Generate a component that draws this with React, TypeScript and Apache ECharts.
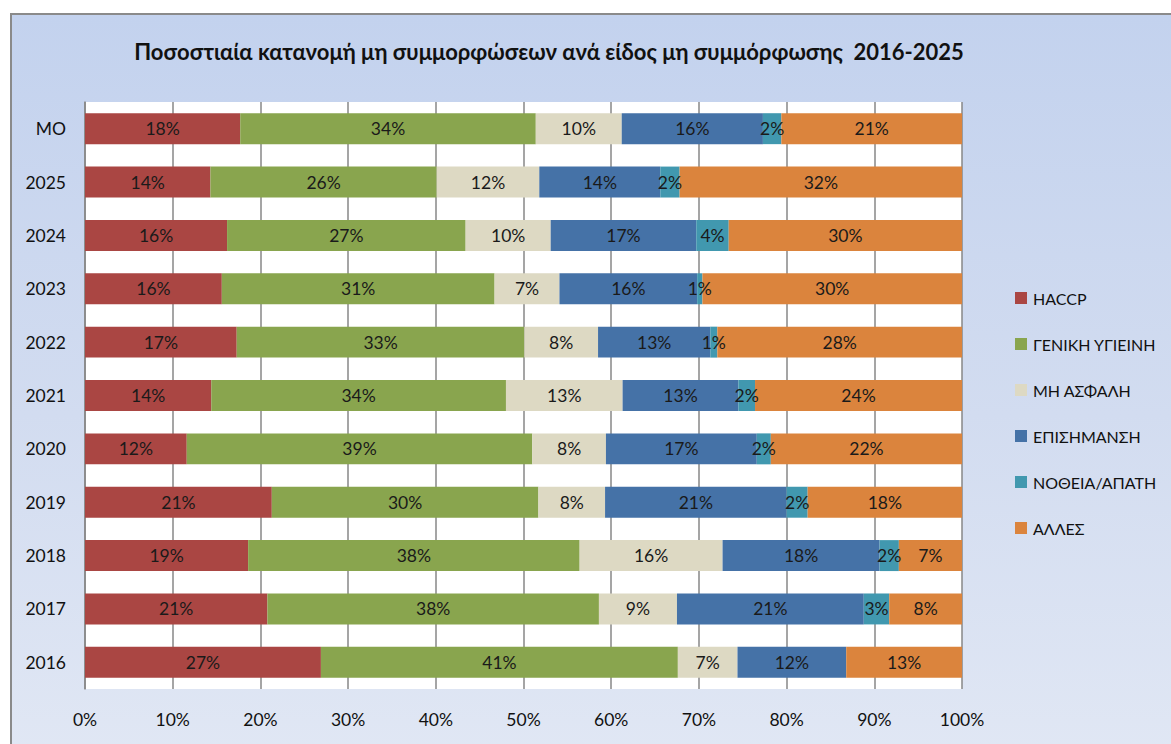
import React, { useEffect, useRef } from "react";
import * as echarts from "echarts";

const categories = ["2016", "2017", "2018", "2019", "2020", "2021", "2022", "2023", "2024", "2025", "MO"];
const seriesNames = ["HACCP", "ΓΕΝΙΚΗ ΥΓΙΕΙΝΗ", "ΜΗ ΑΣΦΑΛΗ", "ΕΠΙΣΗΜΑΝΣΗ", "ΝΟΘΕΙΑ/ΑΠΑΤΗ", "ΆΛΛΕΣ"];
const haccp = [26.9, 20.8, 18.6, 21.3, 11.6, 14.4, 17.3, 15.6, 16.2, 14.3, 17.7];
const genikiYgieini = [40.7, 37.8, 37.8, 30.4, 39.4, 33.6, 32.8, 31.1, 27.2, 25.8, 33.7];
const miAsfali = [6.8, 8.9, 16.3, 7.6, 8.4, 13.3, 8.4, 7.4, 9.7, 11.7, 9.8];
const episimansi = [12.4, 21.3, 17.9, 20.7, 17.2, 13.2, 12.8, 15.7, 16.6, 13.8, 16.1];
const notheiaApati = [0, 2.9, 2.2, 2.4, 1.6, 1.9, 0.8, 0.6, 3.7, 2.2, 2.1];
const alles = [13.2, 8.3, 7.2, 17.6, 21.8, 23.6, 27.9, 29.7, 30.0, 32.2, 20.6];
const seriesValues = [haccp, genikiYgieini, miAsfali, episimansi, notheiaApati, alles];
const seriesColors = ["#AA4643", "#89A54E", "#DDD9C3", "#4572A7", "#4198AF", "#DB843D"];
const titleText = "Ποσοστιαία κατανομή μη συμμορφώσεων ανά είδος μη συμμόρφωσης  2016-2025";

const FONT = "Lato, 'Noto Sans', sans-serif";

export default function App() {
  const ref = useRef<HTMLDivElement>(null);
  useEffect(() => {
    if (!ref.current) return;
    const chart = echarts.init(ref.current, undefined, { renderer: "svg" });
    chart.setOption({
      animation: false,
      backgroundColor: "transparent",
      textStyle: { fontFamily: FONT },
      graphic: [
        {
          type: "text",
          x: 549,
          y: 51,
          style: {
            text: titleText,
            fontFamily: FONT,
            fontWeight: "bold",
            fontSize: 22,
            fill: "#111",
            align: "center",
            verticalAlign: "middle",
          },
        },
      ],
      grid: {
        left: 85,
        right: 209,
        top: 102,
        bottom: 55,
        show: true,
        backgroundColor: "#ffffff",
        borderWidth: 0,
        containLabel: false,
      },
      legend: {
        orient: "vertical",
        left: 1015,
        top: 288,
        padding: 0,
        itemWidth: 12,
        itemHeight: 12,
        itemGap: 26,
        icon: "rect",
        data: seriesNames,
        textStyle: { fontFamily: FONT, fontSize: 16, color: "#111", lineHeight: 20, padding: [0, 0, 0, 1] },
      },
      xAxis: {
        type: "value",
        min: 0,
        max: 100,
        interval: 10,
        axisLine: { show: false },
        axisTick: { show: false },
        splitLine: { show: true, lineStyle: { color: "#878787", width: 1.5 } },
        axisLabel: {
          formatter: (v: number) => `${v}%`,
          fontFamily: FONT,
          fontSize: 17.5,
          color: "#111",
          margin: 21,
        },
      },
      yAxis: {
        type: "category",
        data: categories,
        axisLine: { show: true, lineStyle: { color: "#878787", width: 1.5 } },
        axisTick: { show: false },
        axisLabel: { fontFamily: FONT, fontSize: 17.5, color: "#111", margin: 19 },
      },
      series: seriesNames.map((name, i) => ({
        name,
        type: "bar",
        stack: "total",
        barCategoryGap: "42%",
        itemStyle: { color: seriesColors[i] },
        label: {
          show: true,
          position: "inside",
          fontFamily: FONT,
          fontSize: 17.5,
          color: "#1a1a1a",
          formatter: (p: any) => (p.value > 0 ? `${Math.round(p.value)}%` : ""),
        },
        data: seriesValues[i],
      })),
    });
    return () => chart.dispose();
  }, []);
  return (
    <div style={{ position: "fixed", left: 0, top: 0, width: 1171, height: 744, background: "#fff", overflow: "hidden" }}>
      <div
        style={{
          position: "absolute",
          left: 10,
          top: 13,
          width: 1220,
          height: 800,
          border: "2px solid #8a8a8a",
          background: "linear-gradient(to bottom, #C3D2EE 0%, #D2DCF0 50%, #E3E9F5 100%)",
        }}
      />
      <div ref={ref} style={{ position: "absolute", left: 0, top: 0, width: 1171, height: 744 }} />
    </div>
  );
}
